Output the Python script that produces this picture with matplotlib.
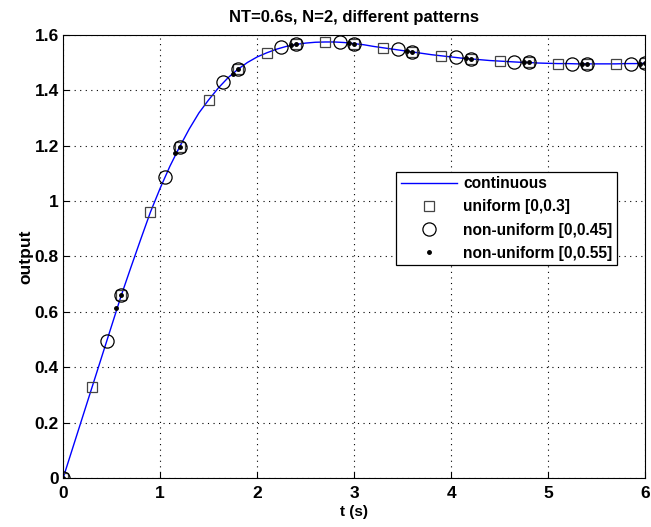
import numpy as np
import matplotlib
matplotlib.use('Agg')
import matplotlib.pyplot as plt

# continuous response, every 0.1 s
t_cont = np.round(np.linspace(0, 6, 61), 2)
y_cont = [0.000, 0.110, 0.220, 0.330, 0.440, 0.550, 0.660, 0.762, 0.862, 0.960,
          1.046, 1.125, 1.195, 1.260, 1.318, 1.365, 1.408, 1.445, 1.475, 1.500,
          1.520, 1.535, 1.548, 1.558, 1.565, 1.570, 1.573, 1.574, 1.574, 1.572,
          1.568, 1.564, 1.558, 1.553, 1.548, 1.543, 1.538, 1.533, 1.528, 1.524,
          1.520, 1.516, 1.513, 1.510, 1.507, 1.505, 1.503, 1.501, 1.500, 1.498,
          1.497, 1.496, 1.496, 1.495, 1.495, 1.495, 1.495, 1.495, 1.496, 1.496,
          1.497]

# uniform sampling [0,0.3]
t_uni = [0.0, 0.3, 0.6, 0.9, 1.2, 1.5, 1.8, 2.1, 2.4, 2.7, 3.0, 3.3, 3.6, 3.9,
         4.2, 4.5, 4.8, 5.1, 5.4, 5.7, 6.0]
y_uni = [0.000, 0.330, 0.660, 0.960, 1.195, 1.365, 1.475, 1.535, 1.565, 1.573,
         1.568, 1.553, 1.538, 1.524, 1.513, 1.505, 1.500, 1.496, 1.495, 1.495,
         1.497]

# non-uniform [0,0.45]
t_nu45 = [0.0, 0.45, 0.6, 1.05, 1.2, 1.65, 1.8, 2.25, 2.4, 2.85, 3.0, 3.45, 3.6,
          4.05, 4.2, 4.65, 4.8, 5.25, 5.4, 5.85, 6.0]
y_nu45 = [0.000, 0.495, 0.660, 1.085, 1.195, 1.428, 1.475, 1.555, 1.565, 1.575,
          1.568, 1.548, 1.538, 1.520, 1.513, 1.503, 1.500, 1.496, 1.495, 1.496,
          1.497]

# non-uniform [0,0.55]
t_nu55 = [0.0, 0.55, 0.6, 1.15, 1.2, 1.75, 1.8, 2.35, 2.4, 2.95, 3.0, 3.55, 3.6,
          4.15, 4.2, 4.75, 4.8, 5.35, 5.4, 5.95, 6.0]
y_nu55 = [0.000, 0.612, 0.660, 1.172, 1.195, 1.460, 1.475, 1.562, 1.565, 1.571,
          1.568, 1.541, 1.538, 1.516, 1.513, 1.501, 1.500, 1.495, 1.495, 1.496,
          1.497]

plt.rcParams['font.family'] = ['Liberation Sans', 'DejaVu Sans']
plt.rcParams['font.weight'] = 'bold'

fig = plt.figure(figsize=(6.51, 5.27), dpi=100)
ax = fig.add_axes([0.097, 0.093, 0.894, 0.841])

ax.plot(t_cont, y_cont, color='blue', lw=1.0, label='continuous')
ax.plot(t_uni, y_uni, ls='none', marker='s', ms=7.5, mfc='none', mec='#444444',
        mew=0.9, label='uniform [0,0.3]')
ax.plot(t_nu45, y_nu45, ls='none', marker='o', ms=9.5, mfc='none', mec='black',
        mew=0.9, label='non-uniform [0,0.45]')
ax.plot(t_nu55, y_nu55, ls='none', marker='.', ms=5, color='black',
        label='non-uniform [0,0.55]')

ax.set_xlim(0, 6)
ax.set_ylim(0, 1.6)
ax.set_xticks([0, 1, 2, 3, 4, 5, 6])
ax.set_yticks([0, 0.2, 0.4, 0.6, 0.8, 1.0, 1.2, 1.4, 1.6])
ax.set_yticklabels(['0', '0.2', '0.4', '0.6', '0.8', '1', '1.2', '1.4', '1.6'])
ax.tick_params(direction='in', labelsize=12.5, length=4, width=0.8)
ax.tick_params(axis='x', pad=6)
ax.tick_params(axis='y', pad=3)
ax.grid(True, color='black', ls=(0, (1, 4)), lw=0.8)
for s in ax.spines.values():
    s.set_linewidth(0.8)

ax.set_title('NT=0.6s, N=2, different patterns', fontsize=12, fontweight='bold', pad=9.5)
ax.set_xlabel('t (s)', fontsize=11, fontweight='bold', labelpad=3)
ax.set_ylabel('output', fontsize=12.5, fontweight='bold', labelpad=1)

leg = ax.legend(loc='upper right', bbox_to_anchor=(0.952, 0.691), fontsize=11.2,
                fancybox=False, framealpha=1, edgecolor='black', borderpad=0.3,
                labelspacing=0.52, handlelength=3.6, handletextpad=0.4,
                borderaxespad=0)
leg.get_frame().set_linewidth(0.9)

plt.savefig('out.png', dpi=100)
